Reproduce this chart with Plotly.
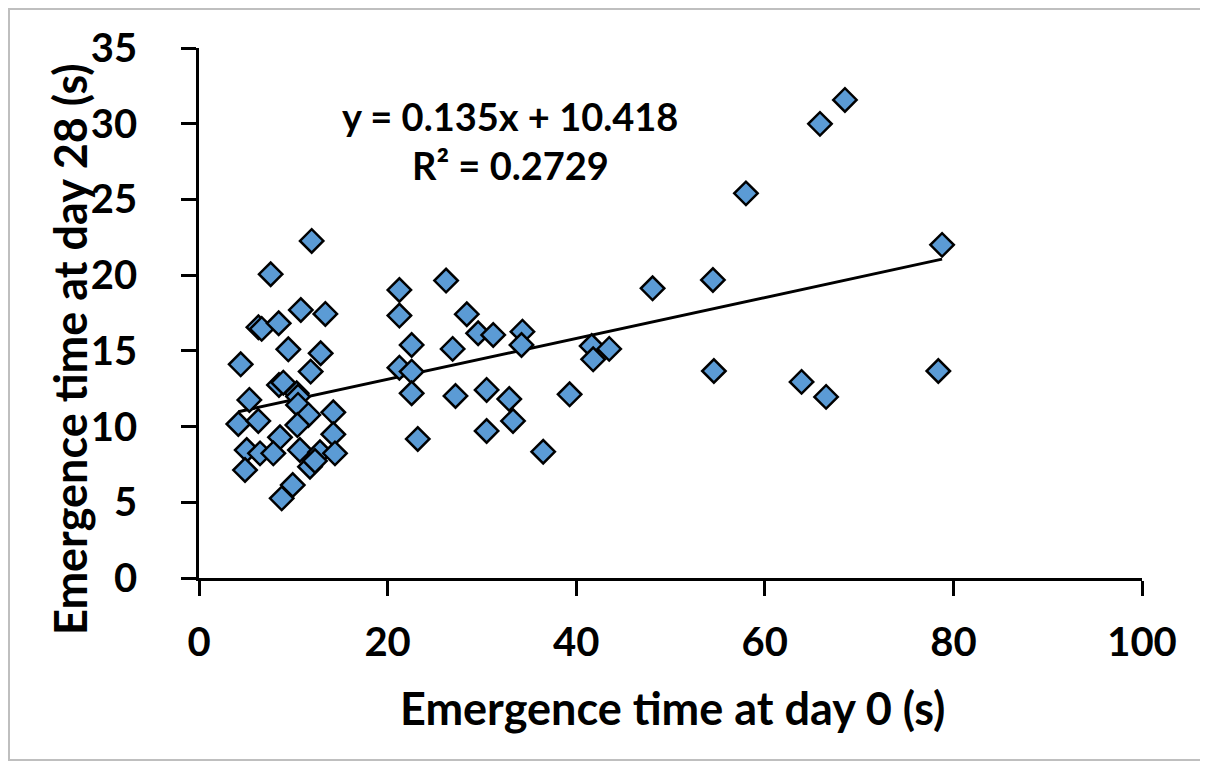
import plotly.graph_objects as go

day0 = [11.95, 7.6, 10.8, 13.4, 6.3, 6.65, 8.45, 9.47, 12.9, 11.84, 4.42, 8.48, 8.94,
        10.36, 10.5, 5.34, 10.5, 4.17, 6.29, 11.6, 10.43, 14.24, 14.24, 8.59, 5.06,
        6.47, 7.88, 10.7, 12.83, 14.42, 11.77, 12.3, 4.88, 9.94, 8.77,
        21.25, 26.2, 21.25, 28.4, 29.6, 31.2, 34.3, 34.2, 22.55, 26.9, 21.25, 22.55,
        41.64, 41.8, 43.5, 48.1, 22.55, 27.2, 30.5, 32.9, 39.3, 33.3, 30.5, 23.2, 36.5,
        54.5, 58.0, 65.85, 68.5, 78.8, 54.6, 63.9, 66.5, 78.4]
day28 = [22.26, 20.06, 17.7, 17.44, 16.56, 16.45, 16.82, 15.1, 14.84, 13.63, 14.11, 12.75, 12.9,
         12.2, 11.98, 11.76, 11.43, 10.17, 10.37, 10.77, 10.1, 10.94, 9.49, 9.29, 8.45,
         8.23, 8.23, 8.45, 8.3, 8.23, 7.35, 7.73, 7.13, 6.14, 5.26,
         19.02, 19.64, 17.33, 17.42, 16.16, 16.05, 16.27, 15.39, 15.39, 15.13, 13.89, 13.63,
         15.32, 14.44, 15.13, 19.13, 12.2, 12.02, 12.42, 11.82, 12.13, 10.37, 9.71, 9.18, 8.34,
         19.68, 25.4, 29.99, 31.57, 22.0, 13.67, 12.95, 11.96, 13.67]

slope = 0.135
intercept = 10.418
r2 = 0.2729
fit_x = [min(day0), max(day0)]
fit_y = [slope * v + intercept for v in fit_x]

x_ticks = [0, 20, 40, 60, 80, 100]
y_ticks = [0, 5, 10, 15, 20, 25, 30, 35]
x_title = "Emergence time at day 0 (s)"
y_title = "Emergence time at day 28 (s)"

FONT = "Lato"
OFF = 8  # page body margin
W, H = 1208 - OFF, 766 - OFF
L, T, PW, PH = 199 - OFF, 48 - OFF, 943, 530


def px(sx):
    return (sx - OFF - L) / PW


def py(sy):
    return (T + PH - (sy - OFF)) / PH


fig = go.Figure()
fig.add_trace(go.Scatter(x=fit_x, y=fit_y, mode="lines",
                         line=dict(color="black", width=3), hoverinfo="skip"))
fig.add_trace(go.Scatter(x=day0, y=day28, mode="markers",
                         marker=dict(symbol="diamond", size=18, color="#5B9BD5",
                                     line=dict(color="black", width=2.5))))

eq_font = dict(family=FONT, size=38, color="black", weight="bold")
fig.add_annotation(xref="paper", yref="paper", x=px(510), y=py(116),
                   xanchor="center", yanchor="middle",
                   text=f"y = {slope}x + {intercept}", showarrow=False, font=eq_font)
fig.add_annotation(xref="paper", yref="paper", x=px(510), y=py(165),
                   xanchor="center", yanchor="middle",
                   text=f"R² = {r2}", showarrow=False, font=eq_font)

title_font = dict(family=FONT, size=45, color="black", weight="bold")
fig.add_annotation(xref="paper", yref="paper", x=px(672), y=py(708),
                   xanchor="center", yanchor="middle",
                   text=x_title, showarrow=False, font=title_font)
fig.add_annotation(xref="paper", yref="paper", x=px(70), y=py(349),
                   xanchor="center", yanchor="middle",
                   text=y_title, showarrow=False, textangle=-90, font=title_font)

fig.add_shape(type="rect", xref="paper", yref="paper",
              x0=px(OFF + 1), x1=px(1201), y0=py(760), y1=py(OFF + 1),
              line=dict(color="#BFBFBF", width=2), fillcolor="rgba(0,0,0,0)")

tick_font = dict(family=FONT, size=40, color="black", weight="bold")
fig.update_layout(
    width=W, height=H,
    margin=dict(l=L, r=W - L - PW, t=T, b=H - T - PH),
    plot_bgcolor="white", paper_bgcolor="white",
    showlegend=False,
    xaxis=dict(range=[0, 100], tickvals=x_ticks, showgrid=False, zeroline=False,
               showline=True, linecolor="black", linewidth=2.5,
               ticks="outside", ticklen=15, tickwidth=2.5, tickcolor="black",
               ticklabelstandoff=12, tickfont=tick_font, automargin=False),
    yaxis=dict(range=[0, 35], tickvals=y_ticks, showgrid=False, zeroline=False,
               showline=True, linecolor="black", linewidth=2.5,
               ticks="outside", ticklen=15, tickwidth=2.5, tickcolor="black",
               ticklabelstandoff=36, tickfont=tick_font, automargin=False),
)

fig.write_html("out.html")
